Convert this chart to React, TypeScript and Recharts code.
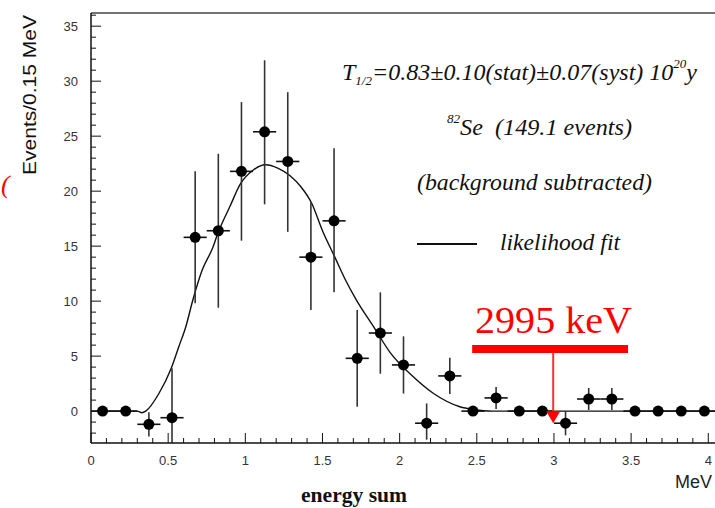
import React from 'react';
import {
  ComposedChart,
  XAxis,
  YAxis,
  Scatter,
  ErrorBar,
  Line,
  ReferenceLine,
  ReferenceDot,
  Customized,
} from 'recharts';

// energy bins of 0.15 MeV, value = bin centre
const binCenters = [
  0.075, 0.225, 0.375, 0.525, 0.675, 0.825, 0.975, 1.125, 1.275, 1.425, 1.575, 1.725, 1.875, 2.025,
  2.175, 2.325, 2.475, 2.625, 2.775, 2.925, 3.075, 3.225, 3.375, 3.525, 3.675, 3.825, 3.975,
];
const counts = [
  0, 0, -1.2, -0.6, 15.8, 16.4, 21.8, 25.4, 22.7, 14.0, 17.3, 4.8, 7.1, 4.2,
  -1.1, 3.2, 0, 1.2, 0, 0, -1.1, 1.1, 1.1, 0, 0, 0, 0,
];
const errLow = [
  0, 0, 1.1, 2.3, 6.0, 7.0, 6.3, 6.6, 6.4, 4.8, 6.5, 4.4, 3.7, 2.6,
  1.5, 1.65, 0, 1.0, 0, 0, 1.1, 1.0, 1.0, 0, 0, 0, 0,
];
const errHigh = [
  0, 0, 1.1, 4.5, 6.0, 7.0, 6.3, 6.5, 6.3, 5.0, 6.6, 4.4, 3.7, 2.6,
  1.8, 1.65, 0, 1.0, 0, 0, 1.1, 1.0, 1.0, 0, 0, 0, 0,
];
const binHalfWidth = 0.075;

// likelihood fit curve
const fitEnergy = [
  0.05, 0.3, 0.33, 0.355, 0.44, 0.52, 0.57, 0.615, 0.66, 0.72, 0.79, 0.82, 0.9, 0.97, 1.05, 1.13,
  1.21, 1.29, 1.36, 1.43, 1.5, 1.58, 1.65, 1.72, 1.83, 1.94, 2.09, 2.22, 2.39, 2.48, 2.6, 4.05,
];
const fitValue = [
  0, 0, -0.15, 0, 1.6, 3.9, 5.9, 7.7, 10.1, 12.8, 14.9, 16.1, 18.6, 20.7, 21.9, 22.4,
  22.1, 21.4, 20.4, 18.9, 16.4, 14.0, 11.9, 10.1, 7.7, 5.3, 3.1, 1.6, 0.4, 0.15, 0, 0,
];

const xTickLabels = ['0', '0.5', '1', '1.5', '2', '2.5', '3', '3.5', '4'];
const yTickLabels = ['0', '5', '10', '15', '20', '25', '30', '35'];

// Q-value marker
const qValue = 2.995;
const qBar = { from: 2.47, to: 3.48, level: 5.65 };

const points = binCenters.map((x, i) => ({
  x,
  y: counts[i],
  ex: binHalfWidth,
  ey: [errLow[i], errHigh[i]],
}));
const fitData = fitEnergy.map((x, i) => ({ x, y: fitValue[i] }));

const xMinorTicks = Array.from({ length: 41 }, (_, i) => Math.round(i * 10) / 100 * 10 / 10);
const yMinorTicks = Array.from({ length: 39 }, (_, i) => i - 2);

const sans = '"Liberation Sans", Arial, sans-serif';
const serif = '"Liberation Serif", "Times New Roman", serif';

const BottomTick = (props: any) => {
  const { x, y, payload } = props;
  const v = payload.value;
  const idx = Math.round(v * 2);
  const major = Math.abs(v * 2 - idx) < 1e-6;
  return (
    <g>
      <line x1={x} x2={x} y1={y} y2={y - (major ? 10 : 5)} stroke="#111" strokeWidth={1} />
      {major && (
        <text x={x} y={y + 17} dy="0.35em" textAnchor="middle" fontFamily={sans} fontSize={13} fill="#333">
          {xTickLabels[idx]}
        </text>
      )}
    </g>
  );
};

const TopTick = (props: any) => {
  const { x, y, payload } = props;
  const v = payload.value;
  const major = Math.abs(v * 2 - Math.round(v * 2)) < 1e-6;
  return <line x1={x} x2={x} y1={y} y2={y + (major ? 6 : 3)} stroke="#555" strokeWidth={1} />;
};

const LeftTick = (props: any) => {
  const { x, y, payload } = props;
  const v = payload.value;
  const major = v % 5 === 0;
  const label = major && v >= 0 ? yTickLabels[v / 5] : null;
  return (
    <g>
      <line x1={x} x2={x + (major ? 10 : 5)} y1={y} y2={y} stroke="#111" strokeWidth={1} />
      {label && (
        <text x={x - 13} y={y} dy="0.35em" textAnchor="end" fontFamily={sans} fontSize={13} fill="#333">
          {label}
        </text>
      )}
    </g>
  );
};

const Annotations = () => (
  <g>
    <text x={29} y={95} transform="rotate(-90 29 95)" textAnchor="middle" dy="0.35em"
      fontFamily={sans} fontSize={19} fill="#111" textLength={160} lengthAdjust="spacingAndGlyphs">
      Events/0.15 MeV
    </text>
    <text x={1} y={193} fontFamily={serif} fontStyle="italic" fontSize={26} fill="#f00">(</text>
    <text x={712} y={482} dy="0.35em" textAnchor="end" fontFamily={sans} fontSize={18} fill="#222">MeV</text>
    <text x={354} y={502} textAnchor="middle" fontFamily={serif} fontWeight="bold" fontSize={20} fill="#111"
      textLength={106} lengthAdjust="spacingAndGlyphs">
      energy sum
    </text>

    <text x={342} y={80} fontFamily={serif} fontStyle="italic" fontSize={24} fill="#111"
      textLength={355} lengthAdjust="spacingAndGlyphs" style={{ whiteSpace: 'pre' }}>
      T<tspan fontSize={13} dy={5}>1/2</tspan>
      <tspan dy={-5}>=0.83±0.10(stat)±0.07(syst) 10</tspan>
      <tspan fontSize={13} dy={-12}>20</tspan>
      <tspan dy={12}>y</tspan>
    </text>
    <text x={447} y={135} fontFamily={serif} fontStyle="italic" fontSize={24} fill="#111"
      textLength={185} lengthAdjust="spacingAndGlyphs" style={{ whiteSpace: 'pre' }}>
      <tspan fontSize={13} dy={-12}>82</tspan>
      <tspan dy={12}>Se  (149.1 events)</tspan>
    </text>
    <text x={417} y={190} fontFamily={serif} fontStyle="italic" fontSize={24} fill="#111"
      textLength={235} lengthAdjust="spacingAndGlyphs">
      (background subtracted)
    </text>
    <line x1={417} x2={477} y1={244} y2={244} stroke="#111" strokeWidth={2} />
    <text x={500} y={250} fontFamily={serif} fontStyle="italic" fontSize={24} fill="#111"
      textLength={120} lengthAdjust="spacingAndGlyphs">
      likelihood fit
    </text>

    <text x={475} y={333} fontFamily={serif} fontSize={38} fill="#f00"
      textLength={157} lengthAdjust="spacingAndGlyphs">
      2995 keV
    </text>
  </g>
);

const Dot = (p: any) => <circle cx={p.cx} cy={p.cy} r={5.5} fill="#000" />;

const ArrowHead = (p: any) => (
  <path d={`M${p.cx - 7},${p.cy - 6}L${p.cx + 7},${p.cy - 6}L${p.cx},${p.cy + 6}Z`} fill="#f00" />
);

export default function App() {
  return (
    <div style={{ position: 'fixed', left: 0, top: 0, width: 715, height: 508, overflow: 'hidden', background: '#fff' }}>
      <ComposedChart width={730} height={508} margin={{ top: 0, right: 14, bottom: 0, left: 0 }}>
        <XAxis
          xAxisId="b"
          type="number"
          dataKey="x"
          domain={[0, 4.05]}
          allowDataOverflow
          ticks={xMinorTicks}
          interval={0}
          height={65}
          tickSize={0}
          tickMargin={0}
          tickLine={false}
          axisLine={{ stroke: '#111', strokeWidth: 1.5 }}
          tick={<BottomTick />}
        />
        <XAxis
          xAxisId="t"
          orientation="top"
          type="number"
          domain={[0, 4.05]}
          allowDataOverflow
          ticks={xMinorTicks}
          interval={0}
          height={13}
          tickSize={0}
          tickMargin={0}
          tickLine={false}
          axisLine={{ stroke: '#444', strokeWidth: 1.5 }}
          tick={<TopTick />}
        />
        <YAxis
          type="number"
          domain={[-2.9, 36.2]}
          allowDataOverflow
          ticks={yMinorTicks}
          interval={0}
          width={91}
          tickSize={0}
          tickMargin={0}
          tickLine={false}
          axisLine={{ stroke: '#111', strokeWidth: 1.5 }}
          tick={<LeftTick />}
        />
        <Line
          xAxisId="b"
          data={fitData}
          dataKey="y"
          type="monotone"
          stroke="#111"
          strokeWidth={1.4}
          dot={false}
          activeDot={false}
          isAnimationActive={false}
        />
        <Scatter xAxisId="b" data={points} dataKey="y" shape={<Dot />} isAnimationActive={false}>
          <ErrorBar dataKey="ey" direction="y" width={0} stroke="#333" strokeWidth={1.6} isAnimationActive={false} />
          <ErrorBar dataKey="ex" direction="x" width={0} stroke="#111" strokeWidth={1.6} isAnimationActive={false} />
        </Scatter>
        <ReferenceLine
          xAxisId="b"
          segment={[{ x: qBar.from, y: qBar.level }, { x: qBar.to, y: qBar.level }]}
          stroke="#f00"
          strokeWidth={8}
        />
        <ReferenceLine
          xAxisId="b"
          segment={[{ x: qValue, y: 5.3 }, { x: qValue, y: 0 }]}
          stroke="#ff3030"
          strokeWidth={2}
        />
        <ReferenceDot xAxisId="b" x={qValue} y={-0.55} r={6} shape={<ArrowHead />} />
        <Customized component={Annotations} />
      </ComposedChart>
    </div>
  );
}
